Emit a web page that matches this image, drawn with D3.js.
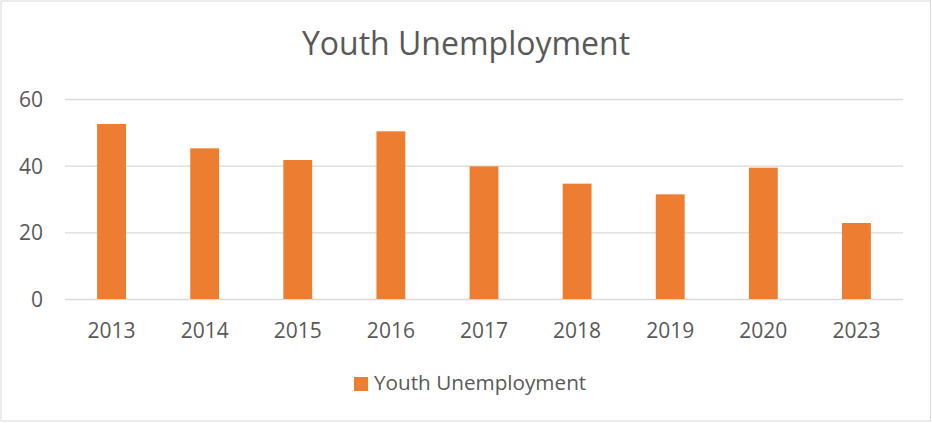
<!DOCTYPE html>
<html>
<head>
<meta charset="utf-8">
<script src="https://cdn.jsdelivr.net/npm/d3@7"></script>
<style>
  body { margin: 0; background: #fff; }
  text { font-family: "Open Sans", sans-serif; fill: #595959; }
</style>
</head>
<body>
<div id="chart"></div>
<script>
// data
var years = ["2013", "2014", "2015", "2016", "2017", "2018", "2019", "2020", "2023"];
var youthUnemployment = [52.5, 45.2, 41.7, 50.3, 39.8, 34.6, 31.4, 39.4, 22.8];
var yTicks = [0, 20, 40, 60];
var seriesName = "Youth Unemployment";

var svgWidth = 932;
var svgHeight = 423;
var margin = { top: 99, bottom: 124, left: 65, right: 29 };
var width = svgWidth - margin.left - margin.right;
var height = svgHeight - margin.top - margin.bottom;

var svg = d3.select("#chart")
    .append("svg")
    .attr("width", svgWidth)
    .attr("height", svgHeight);

// chart border
svg.append("rect")
    .attr("x", 1)
    .attr("y", 1)
    .attr("width", svgWidth - 2.5)
    .attr("height", svgHeight - 3)
    .attr("fill", "#fff")
    .attr("stroke", "#d9d9d9")
    .attr("stroke-width", 1);

var chart = svg.append("g")
    .attr("transform", `translate(${margin.left}, ${margin.top})`);

var x = d3.scaleBand()
    .domain(years)
    .range([0, width])
    .paddingInner(0.69)
    .paddingOuter(0.345);

var y = d3.scaleLinear()
    .domain([0, 60])
    .range([height, 0]);

// gridlines
var yAxis = d3.axisLeft(y)
    .tickValues(yTicks)
    .tickSize(-width)
    .tickPadding(22);
var gy = chart.append("g").call(yAxis);
gy.select(".domain").remove();
gy.selectAll(".tick line")
    .attr("stroke", "#d9d9d9")
    .attr("stroke-width", 1.3);
gy.selectAll(".tick text")
    .style("font-size", "21px")
    .attr("dy", "0.36em");

// bars
chart.selectAll(".bar")
    .data(youthUnemployment)
    .enter()
    .append("rect")
    .attr("class", "bar")
    .attr("x", (d, i) => x(years[i]))
    .attr("y", d => y(d))
    .attr("width", x.bandwidth())
    .attr("height", d => height - y(d))
    .attr("fill", "#ed7d31");

// x axis labels
var xAxis = d3.axisBottom(x).tickSize(0).tickPadding(0);
var gx = chart.append("g")
    .attr("transform", `translate(0, ${height})`)
    .call(xAxis);
gx.select(".domain").remove();
gx.selectAll(".tick text")
    .style("font-size", "21px")
    .attr("dy", null)
    .attr("y", 39);

// title
svg.append("text")
    .attr("x", svgWidth / 2)
    .attr("y", 55)
    .attr("text-anchor", "middle")
    .style("font-size", "32px")
    .text(seriesName);

// legend
var legend = svg.append("g");
legend.append("rect")
    .attr("x", 354)
    .attr("y", 377)
    .attr("width", 14)
    .attr("height", 14)
    .attr("fill", "#ed7d31");
legend.append("text")
    .attr("x", 374)
    .attr("y", 390)
    .style("font-size", "20.7px")
    .text(seriesName);
</script>
</body>
</html>
